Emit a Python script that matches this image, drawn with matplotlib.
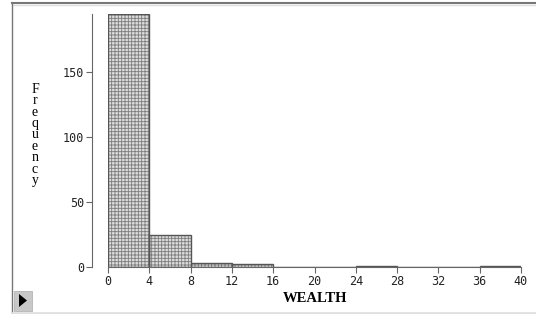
import numpy as np
import matplotlib
matplotlib.use("Agg")
import matplotlib.pyplot as plt
from matplotlib.patches import Rectangle, Polygon

# histogram of wealth, bins of width 4
bin_edges = [0, 4, 8, 12, 16, 20, 24, 28, 32, 36]
counts = [195, 25, 3, 2, 0, 0, 1, 0, 0, 1]
x_ticks = [0, 4, 8, 12, 16, 20, 24, 28, 32, 36, 40]
y_ticks = [0, 50, 100, 150]

plt.rcParams["hatch.linewidth"] = 0.6

W, H = 536, 314
fig = plt.figure(figsize=(W / 100, H / 100), dpi=100)
fig.patch.set_facecolor("white")

ax = fig.add_axes([108 / W, 1 - 267 / H, 413 / W, 253.5 / H])
ax.set_facecolor("white")

# dotted fill first, then the outlines
ax.bar(bin_edges, counts, width=4, align="edge", color="#dcdcdc",
       edgecolor="#7c7c7c", hatch="+++++", linewidth=0)
ax.bar(bin_edges, counts, width=4, align="edge", fill=False,
       edgecolor="#555555", linewidth=1.0)

ax.set_xlim(0, 40)
ax.set_ylim(0, 195)

for s in ["top", "right"]:
    ax.spines[s].set_visible(False)
ax.spines["left"].set_position(("outward", 11.5))
ax.spines["left"].set_color("#666666")
ax.spines["bottom"].set_color("#666666")
ax.spines["left"].set_linewidth(0.8)
ax.spines["bottom"].set_linewidth(0.8)

ax.set_xticks(x_ticks)
ax.set_yticks(y_ticks)
ax.set_xticklabels([str(t) for t in x_ticks])
ax.set_yticklabels([str(t) for t in y_ticks])
ax.tick_params(axis="both", length=4, width=0.8, color="#666666",
               labelsize=8.5, labelcolor="#222222", pad=1.5)
for lab in ax.get_xticklabels() + ax.get_yticklabels():
    lab.set_family("DejaVu Sans Mono")

fig.text(315 / W, 1 - 298 / H, "WEALTH", ha="center", va="center",
         family="Liberation Serif", fontweight="bold", fontsize=10.5)

# stacked vertical label, one letter per line
fig.text(35 / W, 1 - 135 / H, "\n".join("Frequency"), ha="center",
         va="center", family="Liberation Serif", fontsize=10,
         linespacing=0.84, multialignment="center")

# window frame
fig.add_artist(plt.Line2D([12 / W, 1], [1 - 3 / H, 1 - 3 / H],
                          color="#777777", lw=1.5, transform=fig.transFigure))
fig.add_artist(plt.Line2D([12 / W, 1], [1 - 5 / H, 1 - 5 / H],
                          color="#dddddd", lw=1, transform=fig.transFigure))
fig.add_artist(plt.Line2D([12 / W, 12 / W], [0, 1 - 3 / H],
                          color="#777777", lw=1, transform=fig.transFigure))
fig.add_artist(plt.Line2D([12 / W, 1], [1.5 / H, 1.5 / H],
                          color="#e0e0e0", lw=2, transform=fig.transFigure))
fig.add_artist(Rectangle((14 / W, 3 / H), 18 / W, 20 / H, facecolor="#c8c8c8",
                         edgecolor="#aaaaaa", lw=0.5, transform=fig.transFigure))
fig.add_artist(Polygon([[19 / W, 1 - 294 / H], [19 / W, 1 - 307 / H],
                        [27 / W, 1 - 300.5 / H]], closed=True,
                       facecolor="black", transform=fig.transFigure))

fig.savefig("out.png", dpi=100)
